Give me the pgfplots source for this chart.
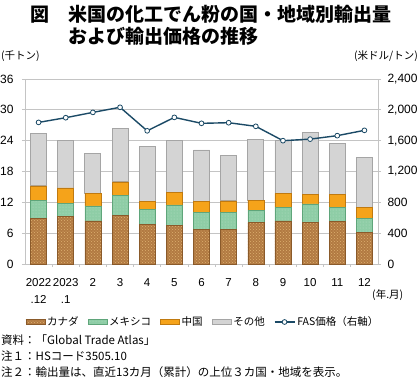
\documentclass[border=0pt]{standalone}
\usepackage{pgfplots}
\pgfplotsset{compat=1.18}
\usepackage{fontspec}
\setmainfont{Liberation Sans}
\newfontfamily\jp{Noto Sans CJK JP}
\usetikzlibrary{patterns}
\definecolor{canc}{HTML}{B27A42}
\definecolor{cand}{HTML}{DDB070}
\definecolor{canb}{HTML}{8A5A2A}
\definecolor{mexc}{HTML}{8ECDA6}
\definecolor{mexd}{HTML}{B8E2C6}
\definecolor{mexb}{HTML}{5FA57A}
\definecolor{chic}{HTML}{F5A31A}
\definecolor{chib}{HTML}{C07A10}
\definecolor{othc}{HTML}{D4D4D4}
\definecolor{othb}{HTML}{A5A5A5}
\definecolor{linec}{HTML}{1B4A66}
\definecolor{gridc}{HTML}{C4C4C4}
\pgfplotsset{
  cstyle/.style={fill=canc, draw=canb, line width=0.5pt, postaction={pattern=crosshatch dots, pattern color=cand}},
  mstyle/.style={fill=mexc, draw=mexb, line width=0.5pt, postaction={pattern=dots, pattern color=mexd}},
  hstyle/.style={fill=chic, draw=chib, line width=0.5pt},
  ostyle/.style={fill=othc, draw=othb, line width=0.8pt},
  boxlegend/.style={legend image code/.code={\draw[##1] (0pt,-2.5pt) rectangle (19pt,2.5pt);}},
  linelegend/.style={legend image code/.code={\draw[##1, mark repeat=2, mark phase=2] plot coordinates {(0pt,0pt) (10pt,0pt) (20pt,0pt)};}},
}
\begin{document}
\begin{tikzpicture}[x=1pt,y=1pt]
\useasboundingbox (-25,-117) rectangle (395,264);
\begin{axis}[
  at={(0,0)}, anchor=south west,
  width=353pt, height=185pt, scale only axis,
  xmin=-0.5, xmax=12.5, ymin=0, ymax=36,
  ytick={0,6,...,36},
  xtick={0,...,12},
  xticklabels={2022\\.12,2023\\.1,2,3,4,5,6,7,8,9,10,11,12},
  minor x tick num=1,
  xtick pos=bottom, ytick pos=left,
  tick align=outside,
  major tick length=3pt, minor tick length=3pt,
  major x tick style={draw=none},
  minor x tick style={gridc, line width=0.8pt},
  major y tick style={gridc, line width=0.8pt},
  axis line style={gridc, line width=0.8pt},
  ymajorgrids, grid style={gridc, line width=0.8pt},
  xticklabel style={font=\fontsize{11.5}{17}\selectfont, align=center, anchor=north, yshift=-8pt},
  yticklabel style={font=\fontsize{12}{14}\selectfont, xshift=-5pt},
  /pgf/number format/assume math mode=true,
  ybar stacked, bar width=16pt,
]
\addplot[cstyle] coordinates {(0,8.9) (1,9.2) (2,8.4) (3,9.5) (4,7.65) (5,7.5) (6,6.75) (7,6.75) (8,8.05) (9,8.4) (10,8.1) (11,8.25) (12,6.15)};
\addplot[mstyle] coordinates {(0,3.55) (1,2.6) (2,2.9) (3,3.9) (4,2.95) (5,4.0) (6,3.3) (7,3.3) (8,2.35) (9,2.6) (10,3.6) (11,2.7) (12,2.75)};
\addplot[hstyle] coordinates {(0,2.75) (1,3.0) (2,2.4) (3,2.6) (4,1.6) (5,2.5) (6,2.15) (7,2.25) (8,2.05) (9,2.75) (10,1.9) (11,2.55) (12,2.05)};
\addplot[ostyle] coordinates {(0,10.15) (1,9.2) (2,7.8) (3,10.3) (4,10.75) (5,10.0) (6,10.0) (7,8.75) (8,11.85) (9,10.3) (10,12.0) (11,9.9) (12,9.8)};
\end{axis}
\begin{axis}[
  at={(0,0)}, anchor=south west,
  width=353pt, height=185pt, scale only axis,
  xmin=-0.5, xmax=12.5, ymin=0, ymax=2400,
  ytick={0,400,...,2400},
  axis y line*=right, axis x line=none,
  tick align=outside, major tick length=3pt,
  major y tick style={gridc, line width=0.8pt},
  axis line style={gridc, line width=0.8pt},
  yticklabel style={font=\fontsize{12}{14}\selectfont, xshift=3pt},
  /pgf/number format/assume math mode=true,
  /pgf/number format/1000 sep={,},
  legend columns=5,
  legend style={at={(0.504,-0.3135)}, anchor=center, draw=none, fill=none,
    font=\jp\fontsize{10.5}{12}\selectfont, inner sep=0pt,
    /tikz/every even column/.append style={column sep=7pt}},
  legend cell align=left,
]
\addlegendimage{area legend, cstyle, boxlegend}
\addlegendentry{カナダ}
\addlegendimage{area legend, mstyle, boxlegend}
\addlegendentry{メキシコ}
\addlegendimage{area legend, hstyle, boxlegend}
\addlegendentry{中国}
\addlegendimage{area legend, ostyle, boxlegend}
\addlegendentry{その他}
\addplot[color=linec, line width=1.4pt, mark=*, mark size=2.4pt,
  mark options={fill=white, draw=linec, line width=0.8pt}, linelegend]
coordinates {(0,1837) (1,1898) (2,1967) (3,2033) (4,1728) (5,1902) (6,1825) (7,1833) (8,1786) (9,1600) (10,1620) (11,1665) (12,1734)};
\addlegendentry{FAS価格（右軸）}
\end{axis}
\node[anchor=west, inner sep=0pt, font=\jp\bfseries\fontsize{19}{22}\selectfont] at (5,250) {図　米国の化工でん粉の国・地域別輸出量};
\node[anchor=west, inner sep=0pt, font=\jp\bfseries\fontsize{19}{22}\selectfont] at (43,228) {および輸出価格の推移};
\node[anchor=west, inner sep=0pt, font=\jp\fontsize{10.5}{12}\selectfont] at (-24,208) {(千トン)};
\node[anchor=east, inner sep=0pt, font=\jp\fontsize{10.5}{12}\selectfont] at (393,208) {(米ドル/トン)};
\node[anchor=west, inner sep=0pt, font=\jp\fontsize{10.5}{12}\selectfont] at (347,-31) {(年.月)};
\node[anchor=west, inner sep=0pt, font=\jp\fontsize{11.5}{13}\selectfont] at (-24,-76) {資料：「Global Trade Atlas」};
\node[anchor=west, inner sep=0pt, font=\jp\fontsize{11.5}{13}\selectfont] at (-24,-92) {注１：HSコード3505.10};
\node[anchor=west, inner sep=0pt, font=\jp\fontsize{11.5}{13}\selectfont] at (-24,-108) {注２：輸出量は、直近13カ月（累計）の上位３カ国・地域を表示。};
\end{tikzpicture}
\end{document}
